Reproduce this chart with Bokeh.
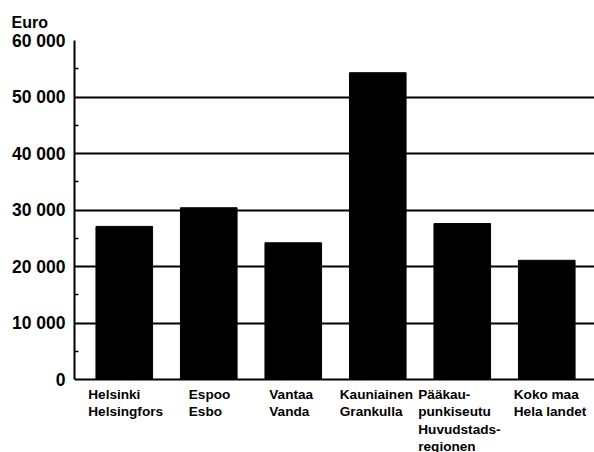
from bokeh.plotting import figure
from bokeh.models import ColumnDataSource, Range1d, FixedTicker
from bokeh.core.properties import value
from bokeh.embed import file_html
from bokeh.resources import INLINE

# ---- data ----
categories = [
    "Helsinki\nHelsingfors",
    "Espoo\nEsbo",
    "Vantaa\nVanda",
    "Kauniainen\nGrankulla",
    "Pääkau-\npunkiseutu\nHuvudstads-\nregionen",
    "Koko maa\nHela landet",
]
values = [27100, 30400, 24200, 54300, 27600, 21100]
tick_values = [0, 10000, 20000, 30000, 40000, 50000, 60000]
tick_labels = ["0", "10 000", "20 000", "30 000", "40 000", "50 000", "60 000"]
unit_label = "Euro"

# ---- style ----
label_x_offsets = [-36, -20, -24, -38, -44, -33]
FONT = "Liberation Sans"

xs = list(range(len(categories)))
src = ColumnDataSource(dict(x=xs, top=values, label=categories,
                            xo=label_x_offsets, y0=[0] * len(xs)))

y_min, y_max = tick_values[0], tick_values[-1]
# extra room below zero for the category labels (73 px of 339 px per 60 000)
y_low = y_min - (y_max - y_min) * 73 / 339

p = figure(width=594, height=452, output_backend="svg", toolbar_location=None,
           x_range=Range1d(-0.589, 5.565), y_range=Range1d(y_low, y_max),
           min_border_left=74, min_border_right=0, min_border_top=40,
           min_border_bottom=0)
p.outline_line_color = None
p.background_fill_color = "white"
p.border_fill_color = "white"

p.title.text = unit_label
p.title.align = "left"
p.title.offset = -63
p.title.standoff = 20
p.title.text_font = FONT
p.title.text_font_size = "16px"
p.title.text_font_style = "bold"
p.title.text_color = "black"

p.vbar(x="x", top="top", width=0.67, source=src, fill_color="black",
       line_color="black")

p.text(x="x", y="y0", text="label", source=src, x_offset="xo", y_offset=7,
       text_align="left", text_baseline="top", text_font=value(FONT),
       text_font_size="13.6px", text_font_style="bold",
       text_line_height=1.175, text_color="black")

p.xaxis.visible = False
p.xgrid.visible = False

minor = [(a + b) / 2 for a, b in zip(tick_values[:-1], tick_values[1:])]
ticker = FixedTicker(ticks=tick_values, minor_ticks=minor)

yax = p.yaxis[0]
yax.ticker = ticker
yax.bounds = (y_min, y_max)
yax.major_label_overrides = {v: s for v, s in zip(tick_values, tick_labels)}
yax.major_label_text_font = FONT
yax.major_label_text_font_size = "17.5px"
yax.major_label_text_font_style = "bold"
yax.major_label_text_color = "black"
yax.major_label_standoff = 9
yax.axis_line_color = "black"
yax.axis_line_width = 2
yax.major_tick_in = 0
yax.major_tick_out = 0
yax.minor_tick_in = 4
yax.minor_tick_out = 0
yax.minor_tick_line_color = "black"
yax.minor_tick_line_width = 1.5

p.ygrid.grid_line_color = "black"
p.ygrid.grid_line_width = 2
p.ygrid.ticker = ticker

open("out.html", "w").write(file_html(p, INLINE))
